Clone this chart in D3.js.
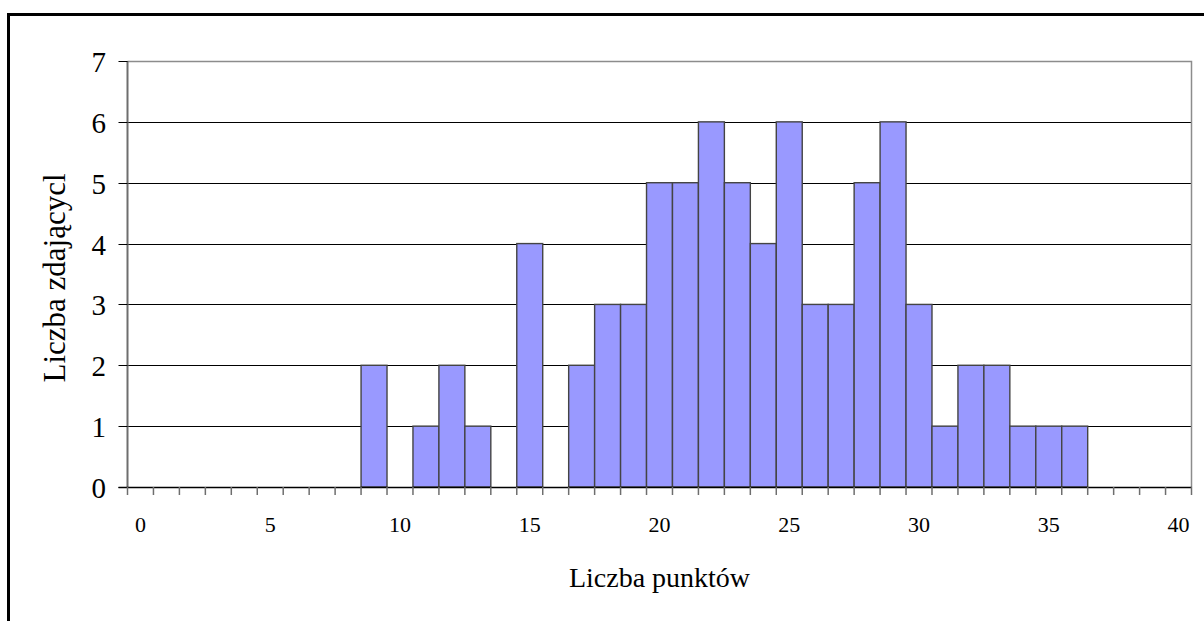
<!DOCTYPE html>
<html>
<head>
<meta charset="utf-8">
<script src="https://cdn.jsdelivr.net/npm/d3@7"></script>
<style>
  html, body { margin: 0; padding: 0; background: #fff; }
  svg { display: block; }
</style>
</head>
<body>
<svg id="chart" width="1204" height="621"></svg>
<script>
// ---- data ----
const categories = d3.range(0, 41);           // Liczba punktów 0..40
const counts = [0,0,0,0,0,0,0,0,0,2, 0,1,2,1,0,4,0,2,3,3, 5,5,6,5,4,6,3,3,5,6, 3,1,2,2,1,1,1,0,0,0, 0];
const xTickLabels = [0,5,10,15,20,25,30,35,40];
const yTickLabels = [0,1,2,3,4,5,6,7];
const xTitle = "Liczba punktów";
const yTitle = "Liczba zdającycl";

(function () {
const svg = d3.select("#chart");
const pLeft = 127.5, pRight = 1191.5, pTop = 61, pBottom = 487;
const serif = "'Liberation Serif', 'Times New Roman', serif";

// outer chart border (extends beyond viewport on right/bottom)
svg.append("rect")
  .attr("x", 8.5).attr("y", 14.5)
  .attr("width", 1300).attr("height", 700)
  .attr("fill", "#fff").attr("stroke", "#000").attr("stroke-width", 3);

const x = d3.scaleBand().domain(categories).range([pLeft, pRight]).padding(0);
const y = d3.scaleLinear().domain([0, 7]).range([pBottom, pTop]);

// gridlines
svg.append("g").selectAll("line").data(yTickLabels.filter(d => d > 0 && d < 7)).join("line")
  .attr("x1", pLeft).attr("x2", pRight)
  .attr("y1", d => Math.round(y(d)) + 0.5).attr("y2", d => Math.round(y(d)) + 0.5)
  .attr("stroke", "#000").attr("stroke-width", 1);

// plot area border (top + right) grey
svg.append("path")
  .attr("d", `M${pLeft},${pTop + 0.5}H${pRight}V${pBottom}`)
  .attr("fill", "none").attr("stroke", "#8c8c8c").attr("stroke-width", 1.5);

// bars
svg.append("g").selectAll("rect")
  .data(categories.map((c, i) => ({c, v: counts[i]})).filter(d => d.v > 0))
  .join("rect")
  .attr("x", d => x(d.c)).attr("width", x.bandwidth())
  .attr("y", d => y(d.v)).attr("height", d => y(0) - y(d.v))
  .attr("fill", "#9999FF").attr("stroke", "#444").attr("stroke-width", 1.4);

// y axis line (grey)
svg.append("line")
  .attr("x1", pLeft).attr("x2", pLeft).attr("y1", pTop).attr("y2", pBottom)
  .attr("stroke", "#6e6e6e").attr("stroke-width", 2);

// y tick marks
svg.append("g").selectAll("line").data(yTickLabels).join("line")
  .attr("x1", pLeft - 9).attr("x2", pLeft)
  .attr("y1", d => Math.round(y(d)) + 0.5).attr("y2", d => Math.round(y(d)) + 0.5)
  .attr("stroke", "#000").attr("stroke-width", 1);

// x axis line
svg.append("line")
  .attr("x1", pLeft - 9).attr("x2", pRight).attr("y1", pBottom + 0.5).attr("y2", pBottom + 0.5)
  .attr("stroke", "#000").attr("stroke-width", 1.5);

// x tick marks at category boundaries
const bounds = categories.map(c => x(c)).concat([x(categories[categories.length - 1]) + x.bandwidth()]);
svg.append("g").selectAll("line").data(bounds).join("line")
  .attr("x1", d => d).attr("x2", d => d)
  .attr("y1", pBottom).attr("y2", pBottom + 8)
  .attr("stroke", "#6e6e6e").attr("stroke-width", 1.5);

// y tick labels
svg.append("g").selectAll("text").data(yTickLabels).join("text")
  .attr("x", 106).attr("y", d => y(d) + 11)
  .attr("text-anchor", "end")
  .attr("font-family", serif)
  .attr("font-size", 29).attr("fill", "#000")
  .text(d => d);

// x tick labels
svg.append("g").selectAll("text").data(xTickLabels).join("text")
  .attr("x", d => x(d) + x.bandwidth() / 2).attr("y", 532)
  .attr("text-anchor", "middle")
  .attr("font-family", serif)
  .attr("font-size", 22).attr("fill", "#000")
  .text(d => d);

// axis titles
svg.append("text")
  .attr("x", (pLeft + pRight) / 2).attr("y", 587)
  .attr("text-anchor", "middle")
  .attr("font-family", serif)
  .attr("font-size", 28).attr("fill", "#000")
  .text(xTitle);

svg.append("text")
  .attr("transform", `translate(65,${(pTop + pBottom) / 2 + 4}) rotate(-90)`)
  .attr("text-anchor", "middle")
  .attr("font-family", serif)
  .attr("font-size", 31).attr("fill", "#000")
  .text(yTitle);
})();
</script>
</body>
</html>
